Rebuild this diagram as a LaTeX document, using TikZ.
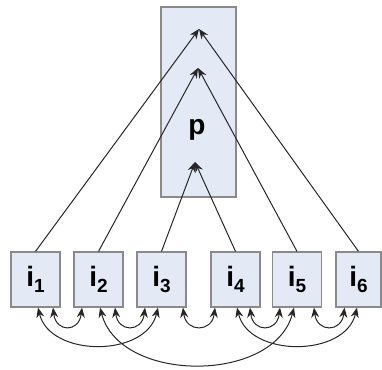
\documentclass[tikz,border=0pt]{standalone}
\usepackage{fontspec}
\setmainfont{Liberation Sans}
\usetikzlibrary{calc,arrows.meta}
\definecolor{boxfill}{HTML}{E4EAF5}
\definecolor{boxline}{HTML}{8A8A8A}
\definecolor{lnk}{HTML}{262626}
\newcommand{\isub}[1]{i\raisebox{-6pt}{\fontsize{19}{19}\selectfont\bfseries #1}}
\begin{document}
\begin{tikzpicture}[x=1pt,y=-1pt,
  ibox/.style={draw=boxline,fill=boxfill,line width=1.2pt,minimum width=49pt,minimum height=55pt,inner sep=0pt,font=\fontsize{28}{28}\selectfont\bfseries},
  pbox/.style={draw=boxline,fill=boxfill,line width=1.2pt,minimum width=75pt,minimum height=190pt,inner sep=0pt},
  link/.style={draw=lnk,line width=1pt,-{Stealth[length=10pt,width=8pt]}},
  dlink/.style={draw=lnk,line width=1pt,{Stealth[length=10pt,width=8pt]}-{Stealth[length=10pt,width=8pt]}}]
\useasboundingbox (0,0) rectangle (382,369);
\node[pbox] (P) at (198.5,102) {};
\node[font=\fontsize{28}{28}\selectfont\bfseries] (ptext) at (197,130) {p};
\coordinate (ta) at (199,29);
\coordinate (tb) at (198,68);
\coordinate (tc) at (195,162);
\node[ibox] (i1) at (35.5,279.5) {\isub{1}};
\node[ibox] (i2) at (98.5,279.5) {\isub{2}};
\node[ibox] (i3) at (161.5,279.5) {\isub{3}};
\node[ibox] (i4) at (235.5,279.5) {\isub{4}};
\node[ibox] (i5) at (297,279.5) {\isub{5}};
\node[ibox,minimum width=45pt] (i6) at (358.5,279.5) {\isub{6}};
% upward links
\draw[link] (i1.north) -- (ta);
\draw[link] (i6.north) -- (ta);
\draw[link] (i2.north) -- (tb);
\draw[link] (i5.north) -- (tb);
\draw[link] (i3.north) -- (tc);
\draw[link] (i4.north) -- (tc);
% small arcs
\draw[dlink] ($(i1.south)+(17.5,0)$) .. controls +(3,25) and +(-3,25) .. ($(i2.south)+(-16.5,0)$);
\draw[dlink] ($(i2.south)+(16.5,0)$) .. controls +(3,25) and +(-3,25) .. ($(i3.south)+(-16.5,0)$);
\draw[dlink] ($(i3.south)+(21.5,0)$) .. controls +(3,25) and +(-3,25) .. ($(i4.south)+(-20.5,0)$);
\draw[dlink] ($(i4.south)+(14.5,0)$) .. controls +(3,25) and +(-3,25) .. ($(i5.south)+(-17,0)$);
\draw[dlink] ($(i5.south)+(17,0)$) .. controls +(3,25) and +(-3,25) .. ($(i6.south)+(-14,0)$);
% long arcs
\draw[dlink] ($(i1.south)+(2.5,0)$) .. controls +(12,50) and +(-12,50) .. ($(i3.south)+(-3.5,0)$);
\draw[dlink] ($(i4.south)+(1.5,0)$) .. controls +(12,50) and +(-12,50) .. ($(i6.south)+(-1.5,0)$);
\draw[dlink] ($(i2.south)+(1.5,0)$) .. controls +(20,76) and +(-20,76) .. ($(i5.south)+(-3,0)$);
\end{tikzpicture}
\end{document}
